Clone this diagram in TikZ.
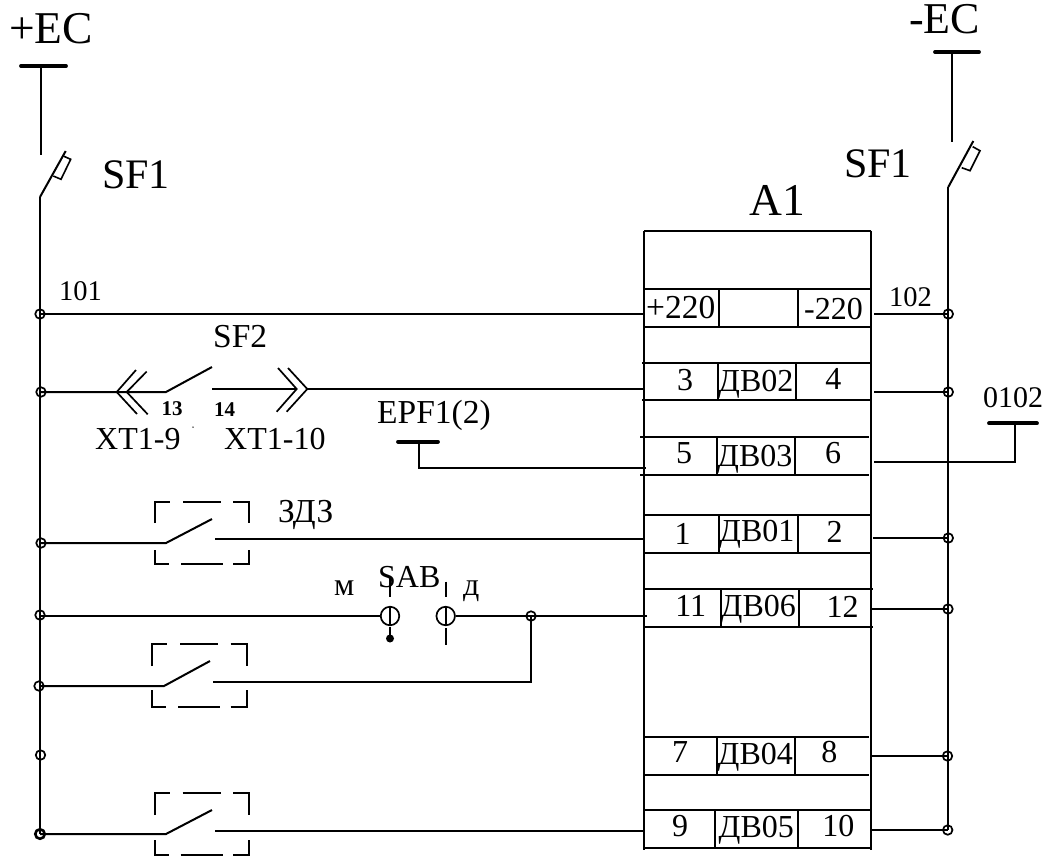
\documentclass[tikz,border=0pt]{standalone}
\usepackage{fontspec}
\setmainfont{Liberation Serif}
\newcommand{\rowbox}[7]{% name, top, bot, xl, xr, v1, v2
  \coordinate (#1tl) at (#4,#2); \coordinate (#1tr) at (#5,#2);
  \coordinate (#1bl) at (#4,#3); \coordinate (#1br) at (#5,#3);
  \coordinate (#1at) at (#6,#2); \coordinate (#1ab) at (#6,#3);
  \coordinate (#1ct) at (#7,#2); \coordinate (#1cb) at (#7,#3);
  \draw[wire] (#1tl) -- (#1tr);
  \draw[wire] (#1bl) -- (#1br);
  \draw[wire] (#1at) -- (#1ab);
  \draw[wire] (#1ct) -- (#1cb);
}
\newcommand{\dashframe}[7]{% name, left, right, top, bottom, top-stub-y, bottom-stub-y
  \coordinate (#1a) at (#2,#6); \coordinate (#1b) at (#2,#4);
  \coordinate (#1c) at (#3,#4); \coordinate (#1d) at (#3,#6);
  \coordinate (#1e) at (#2,#7); \coordinate (#1f) at (#2,#5);
  \coordinate (#1g) at (#3,#5); \coordinate (#1h) at (#3,#7);
  \draw[wire,line cap=butt] (#1a) -- (#1b) -- ++(15,0);
  \draw[wire,line cap=butt] ([xshift=28]#1b) -- ([xshift=66]#1b);
  \draw[wire,line cap=butt] ([xshift=-16]#1c) -- (#1c) -- (#1d);
  \draw[wire,line cap=butt] (#1e) -- (#1f) -- ++(14,0);
  \draw[wire,line cap=butt] ([xshift=26]#1f) -- ([xshift=68]#1f);
  \draw[wire,line cap=butt] ([xshift=-16]#1g) -- (#1g) -- (#1h);
}
\tikzset{
  x=1pt,y=-1pt,
  wire/.style={line width=2pt,black},
  bar/.style={line width=3.8pt,line cap=round,black},
  jct/.style={circle,draw,line width=1.7pt,minimum size=9.5pt,inner sep=0pt},
  sabc/.style={circle,draw,line width=1.7pt,minimum size=18.5pt,inner sep=0pt},
  txt/.style={inner sep=0pt,anchor=base},
  txw/.style={inner sep=0pt,anchor=base west},
  f46/.style={font=\fontsize{45.5}{46}\selectfont},
  f44/.style={font=\fontsize{44}{44}\selectfont},
  f42/.style={font=\fontsize{42}{44}\selectfont},
  f34/.style={font=\fontsize{33.5}{36}\selectfont},
  f32/.style={font=\fontsize{32}{36}\selectfont},
  f30/.style={font=\fontsize{30}{36}\selectfont},
  f28/.style={font=\fontsize{28.5}{32}\selectfont},
  f21/.style={font=\bfseries\fontsize{21}{24}\selectfont},
}
\begin{document}
\begin{tikzpicture}
\useasboundingbox (0,0) rectangle (1046,855);
% ---------- supplies
\node[txw,f46] (pec) at (9,43) {+EC};
\node[txw,f44] (mec) at (909,33) {-EC};
\node[txw,f42] (sfl) at (102,188) {SF1};
\node[txw,f42] (sfr) at (844,177) {SF1};
\node[txw,f46] (aone) at (749,215) {A1};
\coordinate (pbl) at (21,66); \coordinate (pbr) at (66,66); \coordinate (pbm) at (41,66);
\coordinate (ptop) at (41,155);
\draw[bar] (pbl) -- (pbr);
\draw[wire] (pbm) -- (ptop);
\coordinate (pblade0) at (40,197); \coordinate (pblade1) at (65.7,151);
\draw[wire] (pblade0) -- (pblade1);
\coordinate (pf1) at (53.3,176); \coordinate (pf2) at (61,179.3); \coordinate (pf3) at (70.7,159.3); \coordinate (pf4) at (63.3,156);
\draw[line width=1.6pt] (pf1) -- (pf2) -- (pf3) -- (pf4);
\coordinate (mbl) at (935,52); \coordinate (mbr) at (979,52); \coordinate (mbm) at (952.3,52);
\coordinate (mtop) at (952.3,142);
\draw[bar] (mbl) -- (mbr);
\draw[wire] (mbm) -- (mtop);
\coordinate (mblade0) at (948.3,187); \coordinate (mblade1) at (973.3,141);
\draw[wire] (mblade0) -- (mblade1);
\coordinate (mf1) at (961.7,167.7); \coordinate (mf2) at (970,170.7); \coordinate (mf3) at (980,150.7); \coordinate (mf4) at (972.7,146.7);
\draw[line width=1.6pt] (mf1) -- (mf2) -- (mf3) -- (mf4);
% ---------- buses
\coordinate (lbusend) at (40,834); \coordinate (rbusend) at (948.3,830);
\draw[wire] (pblade0) -- (lbusend);
\draw[wire] (mblade0) -- (rbusend);
\node[jct] (L1) at (40,314) {};
\node[jct] (L2) at (41,392) {};
\node[jct] (L3) at (41,543) {};
\node[jct] (L4) at (40,615) {};
\node[jct] (L5) at (39,686) {};
\node[jct] (L6) at (40.5,755) {};
\node[jct,line width=2.6pt] (L7) at (40,834) {};
\node[jct] (R1) at (948.3,314) {};
\node[jct] (R2) at (948.3,392) {};
\node[jct] (R3) at (948.3,538) {};
\node[jct] (R4) at (948,609) {};
\node[jct] (R5) at (947.5,756) {};
\node[jct] (R6) at (947.7,830) {};
% ---------- block A1
\coordinate (atl) at (644,230.7); \coordinate (atr) at (870.7,230.7);
\coordinate (abl) at (644,850); \coordinate (abr) at (870.7,850);
\draw[wire] (atl) -- (atr);
\draw[wire] (atl) -- (abl);
\draw[wire] (atr) -- (abr);
\rowbox{ra}{289}{326.7}{644}{871}{719.3}{797.7}
\rowbox{rb}{362.7}{400}{642}{870}{718.3}{796}
\rowbox{rc}{437.3}{475}{640}{869}{716.7}{795}
\rowbox{rd}{515}{552.7}{644}{871}{719.3}{797.7}
\rowbox{re}{588.7}{626.7}{645}{873}{720.7}{799}
\rowbox{rf}{736.7}{774.7}{644}{869}{716.7}{794.7}
\rowbox{rg}{810.3}{848}{643}{871}{715.3}{798.3}
% ---------- block texts
\node[txw,f34] (t220p) at (646,318) {+220};
\node[txw,f32] (t220m) at (804,319) {-220};
\node[txt,f32] (t3) at (685,390) {3};
\node[txw,f32] (tdv2) at (718,391.7) {ДВ02};
\node[txt,f32] (t4) at (833.3,389) {4};
\node[txt,f32] (t5) at (684,463) {5};
\node[txw,f32] (tdv3) at (717,466) {ДВ03};
\node[txt,f32] (t6) at (833,463) {6};
\node[txt,f32] (t1) at (682.7,544.3) {1};
\node[txw,f32] (tdv1) at (719,541.7) {ДВ01};
\node[txt,f32] (t2) at (834.7,542.3) {2};
\node[txt,f32] (t11) at (690.7,616.7) {11};
\node[txw,f32] (tdv6) at (720.5,616.7) {ДВ06};
\node[txt,f32] (t12) at (842.7,617) {12};
\node[txt,f32] (t7) at (680,762.7) {7};
\node[txw,f32] (tdv4) at (717.5,764) {ДВ04};
\node[txt,f32] (t8) at (829.3,762.7) {8};
\node[txt,f32] (t9) at (680,836.7) {9};
\node[txw,f32] (tdv5) at (718.5,837) {ДВ05};
\node[txt,f32] (t10) at (838.3,836.7) {10};
% ---------- right-hand wires
\coordinate (ra0) at (874,314); \draw[wire] (ra0) -- (R1.center);
\coordinate (rb0) at (874,392); \draw[wire] (rb0) -- (R2.center);
\coordinate (rd0) at (873,538); \draw[wire] (rd0) -- (R3.center);
\coordinate (re0) at (871,609); \draw[wire] (re0) -- (R4.center);
\coordinate (rf0) at (870,756); \draw[wire] (rf0) -- (R5.center);
\coordinate (rg0) at (871,830); \draw[wire] (rg0) -- (R6.center);
\coordinate (rc0) at (874,462); \coordinate (rc1) at (1015,462); \coordinate (rc2) at (1015,423.3);
\draw[wire] (rc0) -- (rc1) -- (rc2);
\coordinate (b01) at (989,423.3); \coordinate (b02) at (1037,423.3);
\draw[bar] (b01) -- (b02);
\node[txw,f30] (t0102) at (983,407) {0102};
\node[txw,f28] (t102) at (889,306) {102};
\node[txw,f28] (t101) at (59,300) {101};
% ---------- row +220
\coordinate (ra9) at (645,314);
\draw[wire] (L1.center) -- (ra9);
% ---------- row SF2
\coordinate (sw20) at (166,392); \coordinate (sw21) at (212,367);
\draw[wire] (L2.center) -- (sw20) -- (sw21);
\coordinate (c1a) at (136,370); \coordinate (c1t) at (116.7,392); \coordinate (c1b) at (137,414);
\coordinate (c2a) at (146.7,371.5); \coordinate (c2t) at (126.7,392); \coordinate (c2b) at (147.7,414.3);
\draw[line width=1.7pt] (c1a) -- (c1t) -- (c1b);
\draw[line width=1.7pt] (c2a) -- (c2t) -- (c2b);
\coordinate (sw22) at (212,389); \coordinate (c3t) at (296.7,389); \coordinate (c3a) at (278,368); \coordinate (c3b) at (276.7,411.7);
\coordinate (c4t) at (307.3,389); \coordinate (c4a) at (288,368); \coordinate (c4b) at (286.7,411.7);
\coordinate (rb9) at (645,389);
\draw[wire] (sw22) -- (c3t);
\draw[line width=1.7pt] (c3a) -- (c3t) -- (c3b);
\draw[line width=1.7pt] (c4a) -- (c4t) -- (c4b);
\draw[wire] (c4t) -- (rb9);
\node[txw,f34] (tsf2) at (213,347) {SF2};
\node[txw,f21] (t13) at (161.5,415) {13};
\node[txw,f21] (t14) at (214,416) {14};
\node[txw,f32] (txt9) at (95,449) {XT1-9};
\node[txw,f32] (txt10) at (224,449) {XT1-10};
\node[fill,circle,inner sep=0pt,minimum size=1.5pt] (speck) at (193,427) {};
% ---------- row EPF
\coordinate (e1) at (398,441.7); \coordinate (e2) at (438,441.7); \coordinate (e3) at (419,441.7); \coordinate (e4) at (419,468); \coordinate (rc9) at (646,468);
\draw[bar] (e1) -- (e2);
\draw[wire] (e3) -- (e4) -- (rc9);
\node[txw,f34] (tepf) at (377,423) {EPF1(2)};
% ---------- row 1 (ZDZ)
\coordinate (sw30) at (166,543); \coordinate (sw31) at (212,519);
\draw[wire] (L3.center) -- (sw30) -- (sw31);
\coordinate (sw32) at (215,539); \coordinate (rd9) at (645,539);
\draw[wire] (sw32) -- (rd9);
\dashframe{fa}{155}{249}{502.3}{564.3}{523}{550}
\node[txw,f34] (tzdz) at (278,522) {ЗДЗ};
% ---------- row SAB
\node[sabc] (sa) at (390,616) {};
\node[sabc] (sb) at (445.7,616) {};
\node[jct] (jn) at (531,616) {};
\coordinate (re9) at (647,616);
\draw[wire] (L4.center) -- (L4.center |- sa.west) -- (sa.west);
\draw[wire] (sb.east) -- (re9);
\coordinate (sa1) at (390,577); \coordinate (sa2) at (390,597); \coordinate (sa3) at (390,627); \coordinate (sa4) at (390,635);
\coordinate (sb1) at (445.7,581.7); \coordinate (sb2) at (445.7,597); \coordinate (sb3) at (445.7,628); \coordinate (sb4) at (445.7,645);
\draw[wire] (sa1) -- (sa2); \draw[wire] (sa3) -- (sa4);
\draw[wire] (sb1) -- (sb2); \draw[wire] (sb3) -- (sb4);
\draw[line width=1.6pt] (sa.north) -- (sa.south);
\draw[line width=1.6pt] (sb.north) -- (sb.south);
\node[fill,circle,inner sep=0pt,minimum size=8pt] (sad) at (390,638.5) {};
\node[txw,f32] (tsab) at (378,587) {SAB};
\node[txw,f32] (tm) at (334,595) {м};
\node[txw,f32] (td) at (463,595) {д};
% ---------- row 2nd switch
\coordinate (sw40) at (164,686); \coordinate (sw41) at (210,661);
\draw[wire] (L5.center) -- (sw40) -- (sw41);
\coordinate (sw42) at (213,682); \coordinate (jb) at (531,682);
\draw[wire] (sw42) -- (jb) -- (jn.center);
\dashframe{fb}{152}{246.5}{644.3}{707}{666}{690}
% ---------- row 9
\coordinate (sw50) at (166,834); \coordinate (sw51) at (212,810);
\draw[wire] (L7.center) -- (sw50) -- (sw51);
\coordinate (sw52) at (215,831); \coordinate (rg9) at (645,831);
\draw[wire] (sw52) -- (rg9);
\dashframe{fc}{154.5}{249}{793.3}{854.5}{815}{840}
\end{tikzpicture}
\end{document}
